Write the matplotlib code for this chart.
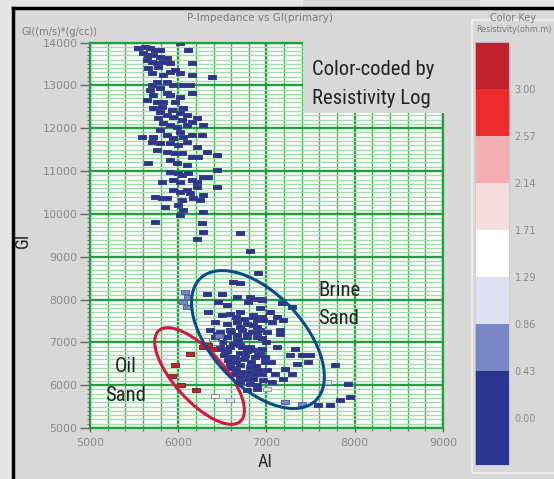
import os
import matplotlib
matplotlib.use("Agg")
import matplotlib.pyplot as plt
import matplotlib.font_manager as fm
import numpy as np
from matplotlib.patches import Rectangle, Ellipse
from matplotlib.lines import Line2D
from matplotlib.colors import ListedColormap, BoundaryNorm
from matplotlib.cm import ScalarMappable
from matplotlib.ticker import MultipleLocator
from matplotlib.transforms import Affine2D

# ---------------- data ----------------
# dark blue points (low resistivity)
blue_ai = [5548, 5623, 5680, 5736, 5604, 5661, 5718, 5793, 5869, 5642, 5699, 5755, 5831, 5906,
           6020, 6114, 6152, 6378, 5699, 5906, 5963, 6020, 6152, 5869, 5944, 6057, 6133, 5680,
           5718, 5642, 5755, 5831, 5906, 6020, 6152, 5718, 5793, 5869, 5944, 6020, 6095, 6152,
           5831, 5906, 5982, 6095, 6265, 5585, 5718, 5869, 5944, 6057, 6152,
           5793, 5661, 5774, 5831, 5755, 5793, 5699, 5869, 5963, 5812, 5925, 6057, 5774, 6038,
           6208, 5793, 6020, 6284,
           5699, 5793, 5906, 6001, 6095, 6208, 5755, 5869, 5963, 6038, 6152, 6227, 6322, 6435,
           5661, 5906, 5982, 6095, 5906, 6001, 6038, 6114, 6435, 5812, 5944, 6020, 6152, 6208,
           6284, 6340, 6208, 6435, 6095, 6133, 5944, 6020, 5736, 5812, 5869, 6038, 6171, 6284,
           6001, 6246, 5850, 6057, 6284, 6020, 5736, 6265, 6284, 6699, 6208, 6812,
           6907, 6624, 6699, 6322, 6491, 6661, 6812, 6793, 6454, 6340, 6926, 6491, 6586, 6699,
           6850, 6944, 6416, 6548, 6661, 6775, 6888, 6359, 6472, 6586, 6718, 6831, 6926, 6416,
           6548, 6661, 6775, 6548,
           6850, 6944, 7171, 7284, 6925, 7039, 7114, 7190, 6850, 6963, 7057, 6888, 7152, 7001,
           6888, 7152, 7114, 7322, 6850, 6925, 7265, 7397, 7492, 7473, 6982, 7341, 7209, 6888,
           7001, 7095, 7284, 7190, 7775, 6850, 6963, 7057, 6888, 7926, 7945, 7831, 7586, 7718,
           6435, 6548, 6661, 6775, 6888, 6473, 6586, 6699, 6812, 6529, 6642, 6756, 6869, 6586,
           6699, 6812, 6642, 6756, 6869, 6699, 6812, 6775, 6888,
           6500, 6550, 6600, 6650, 6700, 6750, 6620, 6680, 6720, 6780, 6830, 6880, 6600, 6650,
           6720, 6760, 6800, 6850, 6900, 6950, 6700, 6560, 6480, 6520, 6600, 6700, 6650, 6750,
           6850, 6950, 7000, 6950, 6900, 6980, 7050]
blue_gi = [13863, 13902, 13863, 13824, 13747, 13708, 13708, 13669, 13630, 13591, 13552, 13513, 13552, 13513,
           13980, 13824, 13513, 13201, 13279, 13318, 13357, 13279, 13240, 13085, 13007, 13007, 13007, 12890,
           12773, 12656, 12617, 12617, 12773, 12734, 12812, 12461, 12383, 12305, 12267, 12345, 12305, 12150,
           12111, 12072, 12033, 12072, 11838, 11799, 11799, 11838, 11760, 11799, 11838,
           13824, 13396, 13435, 13240, 13085, 12929, 13007, 12812, 12617, 12500, 12422, 12461, 12228, 12189,
           12228, 11955, 11916, 12072,
           11683, 11644, 11644, 11605, 11683, 11566, 11488, 11449, 11410, 11410, 11333, 11333, 11449, 11371,
           11177, 11255, 11177, 11138, 10982, 10943, 10904, 10943, 11021, 10748, 10787, 10748, 10787, 10748,
           10865, 10865, 10631, 10631, 10554, 10476, 10554, 10515, 10398, 10359, 10359, 10320, 10359, 10437,
           10203, 10320, 10164, 10086, 10047, 9969, 9814, 9775, 9580, 9557, 9409, 9136,
           8608, 8413, 8374, 8140, 8140, 8062, 8062, 7945, 7945, 7712, 8023, 7634, 7673, 7712,
           7634, 7595, 7478, 7439, 7478, 7439, 7517, 7284, 7245, 7284, 7284, 7245, 7284, 7128,
           7128, 7089, 7128, 7868,
           8023, 7985, 7907, 7829, 7790, 7712, 7595, 7517, 7595, 7517, 7478, 7361, 7284, 7245,
           7245, 7206, 6895, 6856, 6817, 6739, 6700, 6700, 6700, 6544, 6544, 6505, 6388, 6349,
           6349, 6271, 6271, 6154, 6466, 6193, 6115, 6076, 5998, 6037, 5726, 5648, 5531, 5531,
           7206, 7128, 7167, 7206, 7128, 6972, 6895, 6933, 6895, 6739, 6661, 6700, 6661, 6505,
           6466, 6427, 6271, 6232, 6271, 6076, 6037, 5882, 5921,
           7000, 6800, 6650, 6550, 6750, 6600, 6950, 7050, 6900, 6800, 6550, 6450, 6400, 6350,
           6300, 6150, 6300, 6150, 6350, 6250, 6200, 6580, 6850, 6700, 7250, 7350, 7600, 7550,
           7400, 7100, 7000, 6850, 6700, 6650, 6550]

# mid-blue points
mid_ai = [6076, 6114, 6057, 6095, 7209, 7397, 6460]
mid_gi = [8179, 8062, 7945, 7829, 5609, 5570, 7150]

# pale lavender points
pale_ai = [7680, 7001, 6586]
pale_gi = [6076, 5921, 5648]

# white points
white_ai = [6416, 6300, 6420]
white_gi = [5749, 7050, 6980]

# red points (high resistivity, oil sand)
red_ai = [6284, 6341, 6397, 6133, 5963, 5925, 6027, 6201]
red_gi = [6895, 6933, 6856, 6739, 6466, 6209, 6005, 5882]

class_res = [0.2, 0.65, 1.0, 1.5, 3.2]

# color key
key_bounds = [-0.43, 0.0, 0.43, 0.86, 1.29, 1.71, 2.14, 2.57, 3.00, 3.43]
key_colors = ['#2b3590', '#2b3590', '#7a86c6', '#dde0f0', '#ffffff',
              '#f5dede', '#f2b0b4', '#ec2c2c', '#bf2330']
key_ticks = [0.0, 0.43, 0.86, 1.29, 1.71, 2.14, 2.57, 3.00]
key_labels = ['0.00', '0.43', '0.86', '1.29', '1.71', '2.14', '2.57', '3.00']

x_ticks = [5000, 6000, 7000, 8000, 9000]
y_ticks = [5000, 6000, 7000, 8000, 9000, 10000, 11000, 12000, 13000, 14000]

# ellipses (center AI, center GI, width px, height px, angle)
red_ell = (6241, 6213, 122, 50, -48)
blue_ell = (6903, 7065, 168, 92, -47)


# ---------------- fonts ----------------
def pick_condensed():
    prefs = ['liberationsansnarrow-regular', 'robotocondensed-regular', 'dejavusanscondensed.ttf',
             'notosans-condensed.ttf', 'opensans-condensed', 'opensanscondensed']
    files = [f.fname for f in fm.fontManager.ttflist]
    for p in prefs:
        for fn in files:
            b = os.path.basename(fn).lower()
            if b.startswith(p) or b == p:
                return fm.FontProperties(fname=fn)
    for f in fm.fontManager.ttflist:
        b = os.path.basename(f.fname).lower()
        if (('narrow' in b or 'condensed' in b) and 'bold' not in b and 'italic' not in b
                and 'oblique' not in b and 'light' not in b and 'semi' not in b
                and 'extra' not in b and 'medium' not in b and 'thin' not in b
                and 'black' not in b):
            return fm.FontProperties(fname=f.fname)
    return fm.FontProperties(family='Liberation Sans')


cond_fp = pick_condensed()


def cfp(size):
    p = cond_fp.copy()
    p.set_size(size)
    return p


# ---------------- figure ----------------
W, H = 554, 479
fig = plt.figure(figsize=(W / 100, H / 100), dpi=100)
fig.patch.set_facecolor('#e6e6e6')
fig.add_artist(Rectangle((13 / W, 0), 1, (H - 8) / H, transform=fig.transFigure,
                         facecolor='#d8d8d8', edgecolor='none', zorder=0))
fig.add_artist(Line2D([13 / W, 13 / W], [0, (H - 8) / H], color='black', lw=2.5, zorder=1))
fig.add_artist(Line2D([13 / W, 1], [(H - 8) / H, (H - 8) / H], color='black', lw=2.5, zorder=1))
fig.add_artist(Rectangle((472 / W, 6 / H), 0.2, (H - 20 - 6) / H, transform=fig.transFigure,
                         facecolor='none', edgecolor='#f2f2f2', lw=1.2, zorder=1))

ax_l, ax_b, ax_w, ax_h = 90 / W, 51 / H, 353 / W, 385.5 / H
ax = fig.add_axes([ax_l, ax_b, ax_w, ax_h])
ax.set_facecolor('white')
ax.set_xlim(5000, 9000)
ax.set_ylim(5000, 14000)
ax.set_xticks(x_ticks)
ax.set_yticks(y_ticks)
ax.xaxis.set_minor_locator(MultipleLocator(200))
ax.yaxis.set_minor_locator(MultipleLocator(100))
ax.set_axisbelow(True)
ax.grid(True, which='minor', axis='y', color='#a3dbab', lw=1.0)
ax.grid(True, which='minor', axis='x', color='#3fb551', lw=1.0)
ax.grid(True, which='major', color='#1f9f3d', lw=1.7)
for sp in ax.spines.values():
    sp.set_color('#1f9f3d')
    sp.set_linewidth(1.6)
ax.tick_params(axis='y', which='major', length=7, width=1, color='#666666', pad=2,
               labelsize=8, labelcolor='#8a8a8a')
ax.tick_params(axis='y', which='minor', length=2.5, width=0.8, color='#777777')
ax.tick_params(axis='x', which='major', length=3, width=1, color='#666666', pad=4,
               labelsize=8, labelcolor='#8a8a8a')
ax.tick_params(axis='x', which='minor', length=2, width=0.8, color='#777777')

cmap = ListedColormap(key_colors)
norm = BoundaryNorm(key_bounds, cmap.N)

rect = [(-1, -0.55), (1, -0.55), (1, 0.55), (-1, 0.55), (-1, -0.55)]
groups = [(blue_ai, blue_gi), (mid_ai, mid_gi), (pale_ai, pale_gi),
          (white_ai, white_gi), (red_ai, red_gi)]
edge_cols = ['#3a3f86', '#5a63a8', '#9a9ab0', '#8a8a8a', '#7a2a2a']
for (xs, ys), r, ec in zip(groups, class_res, edge_cols):
    ax.scatter(xs, ys, marker=rect, s=28, c=[cmap(norm(r))], edgecolors=ec,
               linewidths=0.7, zorder=3)

# ellipses drawn in an isotropic (pixel-like) frame
ax_w_px = ax_w * W
ax_h_px = ax_h * H
px_x = ax_w_px / 4000.0
px_y = ax_h_px / 9000.0
s = px_y / px_x
iso = Affine2D().scale(1, 1 / s) + ax.transData
for (cx, cy, wp, hp, ang), col in [(red_ell, '#d5173f'), (blue_ell, '#0b4a8a')]:
    e = Ellipse((cx, cy * s), wp / px_x, hp / px_x, angle=ang, transform=iso,
                facecolor='none', edgecolor=col, lw=2.2, zorder=5)
    ax.add_patch(e)

# grey annotation box covering top-right of grid
ax.add_patch(Rectangle(((303 - 90) / 353, (428 - 113) / 385.5), 0.5, 0.3,
                       transform=ax.transAxes, facecolor='#d8d8d8', edgecolor='none',
                       zorder=6, clip_on=False))


def fy(py):
    return 1 - py / H


ann = []
t_ref = fig.text(312 / W, fy(75), 'Color-coded by', fontproperties=cfp(16), color='#222222',
                 ha='left', va='baseline', zorder=10)
ann.append(t_ref)
ann.append(fig.text(312 / W, fy(104), 'Resistivity Log', fontproperties=cfp(16), color='#222222',
                    ha='left', va='baseline', zorder=10))
ann.append(fig.text(318 / W, fy(295.5), 'Brine', fontproperties=cfp(16), color='#222222',
                    ha='left', va='baseline', zorder=10))
ann.append(fig.text(318 / W, fy(324), 'Sand', fontproperties=cfp(16), color='#222222',
                    ha='left', va='baseline', zorder=10))
ann.append(fig.text(126 / W, fy(372), 'Oil', fontproperties=cfp(16), color='#222222',
                    ha='center', va='baseline', zorder=10))
ann.append(fig.text(126 / W, fy(401), 'Sand', fontproperties=cfp(16), color='#222222',
                    ha='center', va='baseline', zorder=10))
ann.append(fig.text(265 / W, fy(467), 'AI', fontproperties=cfp(14), color='#222222',
                    ha='center', va='baseline'))
ann.append(fig.text(23 / W, fy(240), 'GI', fontproperties=cfp(14), color='#222222',
                    ha='center', va='center', rotation=90))

fig.text(260 / W, fy(18), 'P-Impedance vs GI(primary)', fontsize=7.5, color='#7a7a7a',
         ha='center', va='center')
fig.text(22 / W, fy(32), 'GI((m/s)*(g/cc))', fontsize=7, color='#7a7a7a',
         ha='left', va='center')
fig.text(513 / W, fy(18), 'Color Key', fontsize=7, color='#7a7a7a', ha='center', va='center')
t_res = fig.text(476 / W, fy(30), 'Resistivity(ohm.m)', fontsize=7, color='#7a7a7a',
                 ha='left', va='center')

cax = fig.add_axes([475 / W, 14 / H, 34 / W, 423 / H])
cb = fig.colorbar(ScalarMappable(norm=norm, cmap=cmap), cax=cax, ticks=key_ticks)
cb.ax.minorticks_off()
cb.ax.set_yticklabels(key_labels)
cb.ax.tick_params(which='both', length=0, labelsize=7, labelcolor='#8a8a8a', pad=4)
cb.outline.set_edgecolor('#c8c8d8')
cb.outline.set_linewidth(0.6)

# fit text widths to the reference proportions
fig.canvas.draw()
rend = fig.canvas.get_renderer()
wref = t_ref.get_window_extent(rend).width
scale = 122.0 / wref
for t in ann:
    t.set_fontsize(t.get_fontsize() * scale)
wres = t_res.get_window_extent(rend).width
if wres > 76:
    t_res.set_fontsize(7 * 76.0 / wres)

fig.savefig('out.png', dpi=100, facecolor=fig.get_facecolor())
